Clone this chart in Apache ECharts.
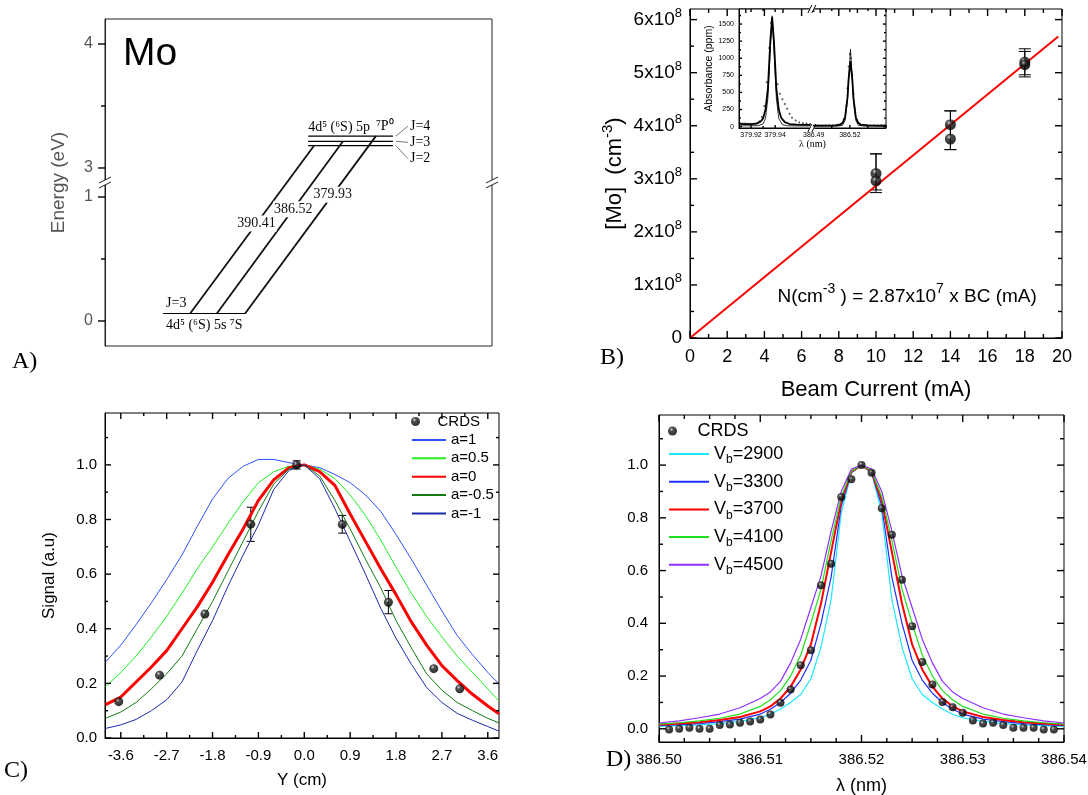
<!DOCTYPE html>
<html><head><meta charset="utf-8">
<script src="https://cdn.jsdelivr.net/npm/echarts@6/dist/echarts.min.js"></script>
<style>html,body{margin:0;padding:0;background:#fff}#c{width:1088px;height:795px}</style>
</head><body><div id="c"></div>
<script>
const SANS = '"Liberation Sans", Arial, sans-serif';
const SERIF = '"Liberation Serif", "Times New Roman", serif';

// ================= DATA =================
// Panel A: Mo energy levels (eV): ground, J=2, J=3, J=4
const levelEnergy = [0.06, 3.18, 3.215, 3.257];
const levelJ = ['J=3', 'J=2', 'J=3', 'J=4'];
const transitionLabel = ['390.41', '386.52', '379.93'];
const transitionUpper = [1, 2, 3];
const energyTickValues = [0, 1, 3, 4];
const energyMinorValues = [0.5, 3.5];

// Panel B
const beamCurrent = [10, 10, 14, 14, 18, 18];
const moDensity = [3.10e8, 2.96e8, 4.02e8, 3.75e8, 5.20e8, 5.15e8];
const moErrLow = [2.79e8, 2.74e8, 3.55e8, 3.55e8, 4.96e8, 4.92e8];
const moErrHigh = [3.47e8, 3.47e8, 4.28e8, 4.28e8, 5.45e8, 5.40e8];
const fitCurrent = [0, 19.8];
const fitDensity = [0, 5.68e8];
const bXTicks = [0, 2, 4, 6, 8, 10, 12, 14, 16, 18, 20];
const bXMinor = [1, 3, 5, 7, 9, 11, 13, 15, 17, 19];
const bYTicks = [0, 1e8, 2e8, 3e8, 4e8, 5e8, 6e8];
const bYMinor = [0.5e8, 1.5e8, 2.5e8, 3.5e8, 4.5e8, 5.5e8];

// Inset of B (absorbance, ppm)
const insetFitLambda = [379.910, 379.915, 379.920, 379.925, 379.928, 379.930, 379.932, 379.934, 379.936, 379.9375, 379.939, 379.941, 379.943, 379.945, 379.948, 379.952, 379.958, 379.965, 379.969, null,
  386.490, 386.500, 386.508, 386.512, 386.514, 386.516, 386.518, 386.519, 386.5205, 386.522, 386.523, 386.525, 386.527, 386.529, 386.535, 386.545, 386.550];
const insetFitAbs = [40, 38, 36, 45, 75, 120, 250, 560, 1250, 1600, 1250, 560, 250, 130, 65, 38, 28, 25, 25, null,
  15, 15, 18, 30, 55, 130, 420, 700, 960, 700, 420, 130, 55, 30, 18, 15, 15];
const insetThinLambda = [379.910, 379.920, 379.926, 379.930, 379.932, 379.934, 379.936, 379.9375, 379.939, 379.941, 379.943, 379.946, 379.950, 379.960, 379.969, null,
  386.490, 386.510, 386.514, 386.516, 386.518, 386.519, 386.5205, 386.522, 386.523, 386.525, 386.527, 386.532, 386.550];
const insetThinAbs = [12, 12, 15, 40, 120, 420, 1150, 1620, 1150, 420, 120, 30, 12, 10, 10, null,
  8, 8, 20, 90, 380, 700, 1130, 700, 380, 90, 20, 8, 8];
const insetDotLambda = [379.911, 379.913, 379.915, 379.917, 379.919, 379.921, 379.923, 379.925, 379.927, 379.929, 379.931, 379.933, 379.935, 379.9365, 379.938, 379.940, 379.942, 379.944, 379.946, 379.948, 379.950, 379.952, 379.954, 379.957, 379.960, 379.963, 379.966, 379.969,
  386.491, 386.494, 386.497, 386.500, 386.503, 386.506, 386.509, 386.511, 386.513, 386.515, 386.517, 386.518, 386.519, 386.520, 386.521, 386.522, 386.523, 386.524, 386.526, 386.528, 386.531, 386.534, 386.537, 386.540, 386.543, 386.546, 386.549];
const insetDotAbs = [48, 45, 44, 42, 40, 40, 45, 55, 80, 140, 300, 650, 1150, 1520, 1450, 900, 620, 480, 400, 330, 260, 190, 130, 90, 60, 50, 45, 40,
  18, 20, 18, 20, 22, 20, 22, 30, 45, 110, 300, 560, 880, 1060, 1000, 760, 480, 260, 100, 45, 28, 22, 20, 20, 18, 20, 18];
const insetTickLambda = [379.92, 379.94, 386.49, 386.52, 386.55];
const insetTickLabels = ['379.92', '379.94', '386.49', '386.52', '386.55'];
const insetMinorLambda = [379.93, 386.505, 386.535];
const insetYTicks = [0, 250, 500, 750, 1000, 1250, 1500];
const insetYMinor = [125, 375, 625, 875, 1125, 1375, 1625];

// Panel C
const cPos = [-3.64, -2.84, -1.95, -1.05, -0.15, 0.745, 1.65, 2.54, 3.05];
const cSignal = [0.133, 0.23, 0.454, 0.783, 1.0, 0.782, 0.497, 0.254, 0.18];
const cErrPos = [-1.05, -0.15, 0.745, 1.65];
const cErrLow = [0.72, 0.985, 0.75, 0.455];
const cErrHigh = [0.845, 1.015, 0.815, 0.54];
const cCurveY = [-3.9, -3.6, -3.3, -3.0, -2.7, -2.4, -2.1, -1.8, -1.5, -1.2, -0.9, -0.6, -0.3, 0, 0.3, 0.6, 0.9, 1.2, 1.5, 1.8, 2.1, 2.4, 2.7, 3.0, 3.3, 3.6, 3.82];
const cA1   = [0.278, 0.34, 0.415, 0.495, 0.58, 0.67, 0.775, 0.875, 0.95, 0.995, 1.02, 1.02, 1.008, 1.0, 0.99, 0.965, 0.935, 0.89, 0.83, 0.745, 0.655, 0.56, 0.465, 0.375, 0.305, 0.24, 0.198];
const cA05  = [0.188, 0.24, 0.3, 0.37, 0.445, 0.53, 0.62, 0.7, 0.785, 0.865, 0.935, 0.975, 0.995, 1.0, 0.985, 0.95, 0.89, 0.815, 0.725, 0.625, 0.53, 0.445, 0.37, 0.3, 0.24, 0.18, 0.135];
const cA0   = [0.122, 0.15, 0.205, 0.26, 0.32, 0.40, 0.48, 0.57, 0.67, 0.765, 0.87, 0.945, 0.99, 1.0, 0.975, 0.925, 0.82, 0.72, 0.62, 0.525, 0.425, 0.34, 0.265, 0.21, 0.16, 0.117, 0.089];
const cAm05 = [0.072, 0.095, 0.13, 0.18, 0.235, 0.3, 0.4, 0.5, 0.61, 0.72, 0.83, 0.93, 0.985, 1.0, 0.96, 0.87, 0.765, 0.655, 0.55, 0.43, 0.33, 0.235, 0.175, 0.13, 0.1, 0.072, 0.055];
const cAm1  = [0.035, 0.048, 0.068, 0.1, 0.14, 0.205, 0.32, 0.43, 0.555, 0.67, 0.78, 0.91, 0.98, 1.0, 0.95, 0.84, 0.72, 0.6, 0.475, 0.365, 0.27, 0.185, 0.13, 0.09, 0.065, 0.042, 0.025];
const cXTicks = [-3.6, -2.7, -1.8, -0.9, 0, 0.9, 1.8, 2.7, 3.6];
const cXMinor = [-3.15, -2.25, -1.35, -0.45, 0.45, 1.35, 2.25, 3.15];
const cYTicks = [0, 0.2, 0.4, 0.6, 0.8, 1.0];
const cYMinor = [0.1, 0.3, 0.5, 0.7, 0.9, 1.1];

// Panel D
const dLambda = [386.501, 386.502, 386.503, 386.504, 386.505, 386.506, 386.507, 386.508, 386.509, 386.510,
  386.511, 386.512, 386.513, 386.514, 386.515, 386.516, 386.517, 386.518, 386.519, 386.520,
  386.521, 386.522, 386.523, 386.524, 386.525, 386.526, 386.527, 386.528, 386.529, 386.530,
  386.531, 386.532, 386.533, 386.534, 386.535, 386.536, 386.537, 386.538, 386.539];
const dSignal = [-0.003, 0.0, 0.004, 0.0, 0.0, 0.014, 0.016, 0.023, 0.028, 0.035,
  0.054, 0.099, 0.149, 0.241, 0.298, 0.544, 0.626, 0.879, 0.946, 1.0,
  0.971, 0.836, 0.736, 0.565, 0.389, 0.253, 0.168, 0.102, 0.082, 0.061,
  0.032, 0.02, 0.023, 0.014, 0.004, 0.004, 0.004, -0.003, -0.003];
const dCurveLambda = [386.500, 386.502, 386.504, 386.506, 386.508, 386.510, 386.511, 386.512, 386.513, 386.514, 386.515, 386.516, 386.517, 386.518, 386.519, 386.520,
  386.521, 386.522, 386.523, 386.524, 386.525, 386.526, 386.527, 386.528, 386.529, 386.530, 386.532, 386.534, 386.536, 386.538, 386.540];
const dV2900 = [0.009, 0.012, 0.015, 0.02, 0.028, 0.042, 0.055, 0.075, 0.1, 0.13, 0.19, 0.31, 0.49, 0.82, 0.97, 1.0, 0.97, 0.82, 0.49, 0.31, 0.19, 0.13, 0.1, 0.075, 0.055, 0.042, 0.028, 0.02, 0.015, 0.012, 0.009];
const dV3300 = [0.012, 0.016, 0.02, 0.027, 0.037, 0.056, 0.074, 0.1, 0.135, 0.185, 0.26, 0.40, 0.575, 0.845, 0.972, 1.0, 0.972, 0.845, 0.575, 0.40, 0.26, 0.185, 0.135, 0.1, 0.074, 0.056, 0.037, 0.027, 0.02, 0.016, 0.012];
const dV3700 = [0.015, 0.02, 0.025, 0.033, 0.045, 0.066, 0.085, 0.115, 0.16, 0.225, 0.32, 0.475, 0.67, 0.865, 0.975, 1.0, 0.975, 0.865, 0.67, 0.475, 0.32, 0.225, 0.16, 0.115, 0.085, 0.066, 0.045, 0.033, 0.025, 0.02, 0.015];
const dV4100 = [0.018, 0.023, 0.03, 0.04, 0.056, 0.085, 0.11, 0.145, 0.2, 0.28, 0.40, 0.53, 0.715, 0.88, 0.978, 1.0, 0.978, 0.88, 0.715, 0.53, 0.40, 0.28, 0.2, 0.145, 0.11, 0.085, 0.056, 0.04, 0.03, 0.023, 0.018];
const dV4500 = [0.022, 0.03, 0.042, 0.056, 0.08, 0.115, 0.14, 0.18, 0.25, 0.34, 0.46, 0.58, 0.75, 0.9, 0.985, 1.0, 0.985, 0.9, 0.75, 0.58, 0.46, 0.34, 0.25, 0.18, 0.14, 0.115, 0.08, 0.056, 0.042, 0.03, 0.022];
const dXTicks = [386.50, 386.51, 386.52, 386.53, 386.54];
const dXMinor = [386.5025, 386.505, 386.5075, 386.5125, 386.515, 386.5175, 386.5225, 386.525, 386.5275, 386.5325, 386.535, 386.5375];
const dYTicks = [0, 0.2, 0.4, 0.6, 0.8, 1.0];
const dYMinor = [0.1, 0.3, 0.5, 0.7, 0.9, 1.1];

// ================= LAYOUT / HELPERS =================
const BREAK_GAP = 0.234;                       // broken energy axis (1 eV -> 3 eV)
const eAxis = v => v <= 2 ? v : v - 3 + 1 + BREAK_GAP;
const eLabel = u => u <= 1.1 ? u : u - 1 - BREAK_GAP + 3;
const insetU = l => l < 383 ? (l - 379.91) * 1000 : (l - 386.49) * 1000 + 62;   // broken wavelength axis
const aLayout = { groundX: [15, 36.4], upperX: [52.5, 74.4], lowX: [22, 28.9, 36.2], highX: [54, 61.5, 70], labelT: [0.536, 0.606, 0.67], jOffset: [0, 13, 1, -10] };
const TICK_COLOR = '#000';

const xAxes = [], yAxes = [];
function addAxis(list, dim, grid, min, max, o) {
  const idx = list.length;
  list.push({
    type: 'value', gridIndex: grid, position: dim === 'x' ? 'bottom' : 'left', min, max, nameMoveOverlap: false,
    axisLine: { show: true, onZero: false, lineStyle: { color: o.lineColor || '#000', width: 1 } },
    axisTick: { show: false },
    axisLabel: Object.assign({ show: true, customValues: o.labelValues, color: '#000', fontFamily: SANS }, o.label || {}),
    splitLine: { show: false }, minorTick: { show: false },
    name: o.name || '', nameLocation: 'middle', nameGap: o.nameGap || 30, nameTextStyle: o.nameStyle || {}
  });
  return idx;
}
const fix1 = v => (Math.abs(v) < 1e-9 ? 0 : v).toFixed(1);

// ----- axes -----
const AX = xAxes.length; xAxes.push({ type: 'value', gridIndex: 0, min: 0, max: 100, show: false });
const AY = addAxis(yAxes, 'y', 0, -0.2016, 2.4355, {
  labelValues: energyTickValues.map(eAxis), lineColor: '#222',
  label: { color: '#555', fontSize: 16, margin: 12, formatter: v => String(Math.round(eLabel(v))) },
  name: 'Energy (eV)', nameGap: 37, nameStyle: { color: '#555', fontSize: 19, fontFamily: SANS }
});
const supRich = { m: { fontSize: 19, lineHeight: 26, fontFamily: SANS, color: '#000' }, s: { fontSize: 13, lineHeight: 13, verticalAlign: 'top', fontFamily: SANS, color: '#000' } };
const BX = addAxis(xAxes, 'x', 1, 0, 20, {
  labelValues: bXTicks, label: { fontSize: 18, margin: 10, formatter: v => String(v) },
  name: 'Beam Current (mA)', nameGap: 41, nameStyle: { fontSize: 22, fontFamily: SANS, color: '#000' }
});
const BY = addAxis(yAxes, 'y', 1, 0, 6.2e8, {
  labelValues: bYTicks,
  label: { fontSize: 19, margin: 8, rich: supRich, formatter: v => v === 0 ? '{m|0}' : '{m|' + Math.round(v / 1e8) + 'x10}{s|8}' },
  name: '[Mo]  (cm{s|-3})', nameGap: 60,
  nameStyle: { fontSize: 22, lineHeight: 30, fontFamily: SANS, color: '#000', rich: { s: { fontSize: 15, lineHeight: 15, verticalAlign: 'top', fontFamily: SANS, color: '#000' } } }
});
const IX = addAxis(xAxes, 'x', 2, 0, 122, {
  labelValues: insetTickLambda.map(insetU),
  label: { fontSize: 7, margin: 4, formatter: v => { let b = 0; insetTickLambda.forEach((l, i) => { if (Math.abs(insetU(l) - v) < Math.abs(insetU(insetTickLambda[b]) - v)) b = i; }); return insetTickLabels[b]; } },
  name: 'λ (nm)', nameGap: 11, nameStyle: { fontSize: 10, fontFamily: SERIF, color: '#000' }
});
const IY = addAxis(yAxes, 'y', 2, -20, 1720, {
  labelValues: insetYTicks, label: { fontSize: 7, margin: 5, formatter: v => String(v) },
  name: 'Absorbance (ppm)', nameGap: 24, nameStyle: { fontSize: 10.5, fontFamily: SANS, color: '#000' }
});
const CX = addAxis(xAxes, 'x', 3, -3.91, 3.82, {
  labelValues: cXTicks, label: { fontSize: 15, margin: 10, formatter: fix1 },
  name: 'Y (cm)', nameGap: 34, nameStyle: { fontSize: 17, fontFamily: SANS, color: '#000' }
});
const CY = addAxis(yAxes, 'y', 3, 0, 1.19, {
  labelValues: cYTicks, label: { fontSize: 15, margin: 8, formatter: fix1 },
  name: 'Signal (a.u)', nameGap: 47, nameStyle: { fontSize: 17, fontFamily: SANS, color: '#000' }
});
const DX = addAxis(xAxes, 'x', 4, 386.50, 386.54, {
  labelValues: dXTicks, label: { fontSize: 15, margin: 10, formatter: v => v.toFixed(2) },
  name: 'λ (nm)', nameGap: 35, nameStyle: { fontSize: 18, fontFamily: SANS, color: '#000' }
});
const DY = addAxis(yAxes, 'y', 4, -0.05, 1.19, {
  labelValues: dYTicks, label: { fontSize: 15, margin: 11, formatter: fix1 }
});

// ----- series -----
const sphere = { type: 'radial', x: 0.38, y: 0.32, r: 0.62, colorStops: [{ offset: 0, color: '#c8c8c8' }, { offset: 0.35, color: '#222' }, { offset: 1, color: '#000' }] };
const zip = (xs, ys) => xs.map((x, i) => [x, ys[i]]);
const series = [];

// A: levels
levelEnergy.forEach((E, i) => {
  const xr = i === 0 ? aLayout.groundX : aLayout.upperX;
  series.push({ type: 'line', xAxisIndex: AX, yAxisIndex: AY, silent: true, symbol: 'none',
    lineStyle: { color: '#000', width: 1.1 }, data: [[xr[0], eAxis(E)], [xr[1], eAxis(E)]] });
});
// A: transitions
const transLabelPts = [];
transitionLabel.forEach((lab, k) => {
  const y0 = eAxis(levelEnergy[0]), y1 = eAxis(levelEnergy[transitionUpper[k]]);
  const x0 = aLayout.lowX[k], x1 = aLayout.highX[k];
  series.push({ type: 'line', xAxisIndex: AX, yAxisIndex: AY, silent: true, symbol: 'none',
    lineStyle: { color: '#111', width: 1.8 }, data: [[x0, y0], [x1, y1]] });
  const t = aLayout.labelT[k];
  transLabelPts.push([x0 + (x1 - x0) * t, y0 + (y1 - y0) * t, lab]);
});

function errBars(xi, yi, xs, lo, hi, cap) {
  return { type: 'custom', xAxisIndex: xi, yAxisIndex: yi, silent: true, z: 3,
    data: xs.map((x, i) => [x, lo[i], hi[i]]),
    renderItem: (params, api) => {
      const a = api.coord([api.value(0), api.value(1)]), b = api.coord([api.value(0), api.value(2)]);
      const st = { stroke: '#000', lineWidth: 1 };
      return { type: 'group', children: [
        { type: 'line', shape: { x1: a[0], y1: a[1], x2: b[0], y2: b[1] }, style: st },
        { type: 'line', shape: { x1: a[0] - cap, y1: a[1], x2: a[0] + cap, y2: a[1] }, style: st },
        { type: 'line', shape: { x1: b[0] - cap, y1: b[1], x2: b[0] + cap, y2: b[1] }, style: st }
      ] };
    } };
}
// B
series.push({ type: 'line', xAxisIndex: BX, yAxisIndex: BY, silent: true, symbol: 'none',
  lineStyle: { color: '#ff0000', width: 2 }, data: zip(fitCurrent, fitDensity) });
series.push(errBars(BX, BY, beamCurrent, moErrLow, moErrHigh, 6));
series.push({ type: 'scatter', name: 'B points', xAxisIndex: BX, yAxisIndex: BY, symbolSize: 11, z: 4,
  itemStyle: { color: sphere }, data: zip(beamCurrent, moDensity) });
// Inset
const insetData = (ls, vs) => ls.map((l, i) => l === null ? [60.5, '-'] : [insetU(l), vs[i]]);
series.push({ type: 'line', xAxisIndex: IX, yAxisIndex: IY, silent: true, symbol: 'none', connectNulls: false,
  lineStyle: { color: '#000', width: 0.8 }, data: insetData(insetThinLambda, insetThinAbs) });
series.push({ type: 'line', xAxisIndex: IX, yAxisIndex: IY, silent: true, symbol: 'none', connectNulls: false,
  lineStyle: { color: '#000', width: 1.8 }, data: insetData(insetFitLambda, insetFitAbs) });
series.push({ type: 'scatter', xAxisIndex: IX, yAxisIndex: IY, silent: true, symbolSize: 2,
  itemStyle: { color: '#222' }, data: insetData(insetDotLambda, insetDotAbs) });
// C
const cCurves = [['a=1', cA1, '#3050ff', 1], ['a=0.5', cA05, '#22ee22', 1], ['a=0', cA0, '#ff0000', 3], ['a=-0.5', cAm05, '#137a13', 1], ['a=-1', cAm1, '#1c2aa8', 1]];
cCurves.forEach(([n, ys, col, w]) => series.push({ type: 'line', name: n, xAxisIndex: CX, yAxisIndex: CY, symbol: 'none',
  color: col, lineStyle: { color: col, width: w }, data: zip(cCurveY, ys) }));
series.push(errBars(CX, CY, cErrPos, cErrLow, cErrHigh, 4));
series.push({ type: 'scatter', name: 'CRDS', xAxisIndex: CX, yAxisIndex: CY, symbolSize: 9, z: 4,
  itemStyle: { color: sphere }, data: zip(cPos, cSignal) });
// D
const dCurves = [['Vb=2900', dV2900, '#1ee8ff', 1.2], ['Vb=3300', dV3300, '#2030ff', 1.2], ['Vb=3700', dV3700, '#ff0000', 2], ['Vb=4100', dV4100, '#1ee01e', 1.2], ['Vb=4500', dV4500, '#9030ff', 1.2]];
dCurves.forEach(([n, ys, col, w]) => series.push({ type: 'line', name: n, xAxisIndex: DX, yAxisIndex: DY, symbol: 'none',
  color: col, lineStyle: { color: col, width: w }, data: zip(dCurveLambda, ys) }));
series.push({ type: 'scatter', name: 'CRDS ', xAxisIndex: DX, yAxisIndex: DY, symbolSize: 8, z: 4,
  itemStyle: { color: sphere }, data: zip(dLambda, dSignal) });

const gridBase = { show: true, borderColor: '#000', borderWidth: 1, containLabel: false, outerBoundsMode: 'none' };
const legendBase = { orient: 'vertical', padding: 0, selectedMode: false };
const option = {
  animation: false,
  backgroundColor: '#fff',
  textStyle: { fontFamily: SANS },
  grid: [
    Object.assign({}, gridBase, { left: 105, top: 19, width: 387, height: 327, borderColor: '#222' }),
    Object.assign({}, gridBase, { left: 690, top: 9, width: 372, height: 329 }),
    Object.assign({}, gridBase, { left: 739, top: 9, width: 147, height: 119, backgroundColor: '#fff' }),
    Object.assign({}, gridBase, { left: 105, top: 413, width: 394, height: 325 }),
    Object.assign({}, gridBase, { left: 659, top: 415, width: 405, height: 327 })
  ],
  xAxis: xAxes, yAxis: yAxes,
  legend: [
    Object.assign({}, legendBase, { data: ['CRDS'], left: 411, top: 414, itemWidth: 34, itemHeight: 9,
      textStyle: { fontSize: 15, fontFamily: SANS, color: '#000' } }),
    Object.assign({}, legendBase, { data: cCurves.map(c => c[0]), left: 411, top: 432.4, itemWidth: 34, itemHeight: 9, itemGap: 3.4,
      itemStyle: { opacity: 0 }, textStyle: { fontSize: 15, fontFamily: SANS, color: '#000' } }),
    Object.assign({}, legendBase, { data: ['CRDS '], left: 668, top: 422, itemWidth: 40, itemHeight: 9,
      formatter: n => n.trim(), textStyle: { fontSize: 18, fontFamily: SANS, color: '#000' } }),
    Object.assign({}, legendBase, { data: dCurves.map(c => c[0]), left: 668, top: 442, itemWidth: 40, itemHeight: 9, itemGap: 3.7,
      itemStyle: { opacity: 0 }, formatter: n => 'V{sub|b}' + n.slice(2),
      textStyle: { fontSize: 18, lineHeight: 24, fontFamily: SANS, color: '#000',
        rich: { sub: { fontSize: 12, lineHeight: 2, verticalAlign: 'bottom', fontFamily: SANS, color: '#000' } } } })
  ],
  series
};

const chart = echarts.init(document.getElementById('c'), null, { renderer: 'canvas' });
chart.setOption(option);

// ----- annotations (ticks, text, break marks) placed through the axes -----
const conv = (xi, yi, x, y) => chart.convertToPixel({ xAxisIndex: xi, yAxisIndex: yi }, [x, y]);
const toA = (x, u) => conv(AX, AY, x, u);
const toI = (u, v) => conv(IX, IY, u, v);
const txt = (x, y, text, size, family, extra) => ({ type: 'text', x, y, z: 100,
  style: Object.assign({ text, fontSize: size, fontFamily: family, fill: '#000', align: 'left', verticalAlign: 'middle', textAlign: 'left', textVerticalAlign: 'middle' }, extra || {}) });
const ln = (x1, y1, x2, y2, color, w) => ({ type: 'line', z: 100, shape: { x1, y1, x2, y2 }, style: { stroke: color, lineWidth: w } });
const rect = (x, y, w, h, fill) => ({ type: 'rect', z: 99, shape: { x, y, width: w, height: h }, style: { fill: fill || '#fff' } });
const G = [];

// tick marks (through each axis' scale), drawn as thin rectangles
function addTicks(xi, yi, dim, values, len, ext, mirror, outward) {
  const w = 1.4;
  values.forEach(v => {
    if (dim === 'x') {
      const a = conv(xi, yi, v, ext[2]), b = conv(xi, yi, v, ext[3]);
      G.push(rect(a[0] - w / 2, outward ? a[1] : a[1] - len, w, len, TICK_COLOR));
      if (mirror) G.push(rect(b[0] - w / 2, b[1], w, len, TICK_COLOR));
    } else {
      const a = conv(xi, yi, ext[0], v), b = conv(xi, yi, ext[1], v);
      G.push(rect(outward ? a[0] - len : a[0], a[1] - w / 2, len, w, TICK_COLOR));
      if (mirror) G.push(rect(b[0] - len, b[1] - w / 2, len, w, TICK_COLOR));
    }
  });
}
const extA = [0, 100, -0.2016, 2.4355], extB = [0, 20, 0, 6.2e8], extI = [0, 122, -20, 1720], extC = [-3.91, 3.82, 0, 1.19], extD = [386.50, 386.54, -0.05, 1.19];
addTicks(AX, AY, 'y', energyTickValues.map(eAxis), 7, extA, false, true);
addTicks(AX, AY, 'y', energyMinorValues.map(eAxis), 4, extA, false, true);
addTicks(BX, BY, 'x', bXTicks, 7, extB, true); addTicks(BX, BY, 'x', bXMinor, 4, extB, true);
addTicks(BX, BY, 'y', bYTicks, 7, extB, true); addTicks(BX, BY, 'y', bYMinor, 4, extB, true);
addTicks(IX, IY, 'x', insetTickLambda.map(insetU), 3, extI, true); addTicks(IX, IY, 'x', insetMinorLambda.map(insetU), 2, extI, true);
addTicks(IX, IY, 'y', insetYTicks, 3, extI, true); addTicks(IX, IY, 'y', insetYMinor, 2, extI, true);
addTicks(CX, CY, 'x', cXTicks, 6, extC, true); addTicks(CX, CY, 'x', cXMinor, 3, extC, true);
addTicks(CX, CY, 'y', cYTicks, 6, extC, true); addTicks(CX, CY, 'y', cYMinor, 3, extC, true);
addTicks(DX, DY, 'x', dXTicks, 7, extD, true); addTicks(DX, DY, 'x', dXMinor, 4, extD, true);
addTicks(DX, DY, 'y', dYTicks, 7, extD, true); addTicks(DX, DY, 'y', dYMinor, 4, extD, true);

const pTL = toA(0, 2.4355);
G.push(txt(pTL[0] + 18, pTL[1] + 35, 'Mo', 39, SANS));
transLabelPts.forEach(([x, u, lab]) => {
  const p = toA(x, u);
  G.push(txt(p[0], p[1], lab, 14, SERIF, { align: 'center', textAlign: 'center', backgroundColor: '#fff', padding: [1, 1], fill: '#111' }));
});
const pG = toA(aLayout.groundX[0], eAxis(levelEnergy[0]));
G.push(txt(pG[0] + 3, pG[1] - 10, levelJ[0], 14, SERIF));
G.push(txt(pG[0] + 3, pG[1] + 12, '4d⁵ (⁶S) 5s ⁷S', 14, SERIF));
const pU = toA(aLayout.upperX[0], eAxis(levelEnergy[3]));
const pUe = toA(aLayout.upperX[1], eAxis(levelEnergy[3]));
G.push(txt(pU[0], pU[1] - 9, '4d⁵ (⁶S) 5p', 14, SERIF));
G.push(txt(pUe[0] - 17, pU[1] - 10, '⁷P⁰', 14, SERIF));
[1, 2, 3].forEach(k => {
  const pe = toA(aLayout.upperX[1], eAxis(levelEnergy[k]));
  const ly = pe[1] + aLayout.jOffset[k];
  G.push(ln(pe[0] + 3, pe[1], pe[0] + 15, ly, '#777', 1));
  G.push(txt(pe[0] + 17, ly, levelJ[k], 14, SERIF));
});
[toA(0, 1.117), toA(100, 1.117)].forEach(p => {
  G.push(rect(p[0] - 2, p[1] - 2.5, 4, 5));
  G.push(ln(p[0] - 6, p[1] + 0.5, p[0] + 6, p[1] - 5.5, '#222', 1));
  G.push(ln(p[0] - 6, p[1] + 5.5, p[0] + 6, p[1] - 0.5, '#222', 1));
});
[toI(60.5, -20), toI(60.5, 1720)].forEach(p => {
  G.push(rect(p[0] - 2.5, p[1] - 1.5, 5, 3));
  G.push(ln(p[0] - 4, p[1] + 4, p[0], p[1] - 4, '#000', 1));
  G.push(ln(p[0], p[1] + 4, p[0] + 4, p[1] - 4, '#000', 1));
});
const pEq = conv(BX, BY, 4.7, 0.78e8);
G.push(txt(pEq[0], pEq[1], 'N(cm{s|-3} ) = 2.87x10{s|7} x BC (mA)', 19, SANS,
  { lineHeight: 28, rich: { s: { fontSize: 14, lineHeight: 14, verticalAlign: 'top', fontFamily: SANS, fill: '#000' } } }));
G.push(txt(12, 362, 'A)', 24, SERIF));
G.push(txt(600, 358, 'B)', 24, SERIF));
G.push(txt(4, 771, 'C)', 24, SERIF));
G.push(txt(606, 760, 'D)', 24, SERIF));
chart.setOption({ graphic: G });
</script>
</body></html>
